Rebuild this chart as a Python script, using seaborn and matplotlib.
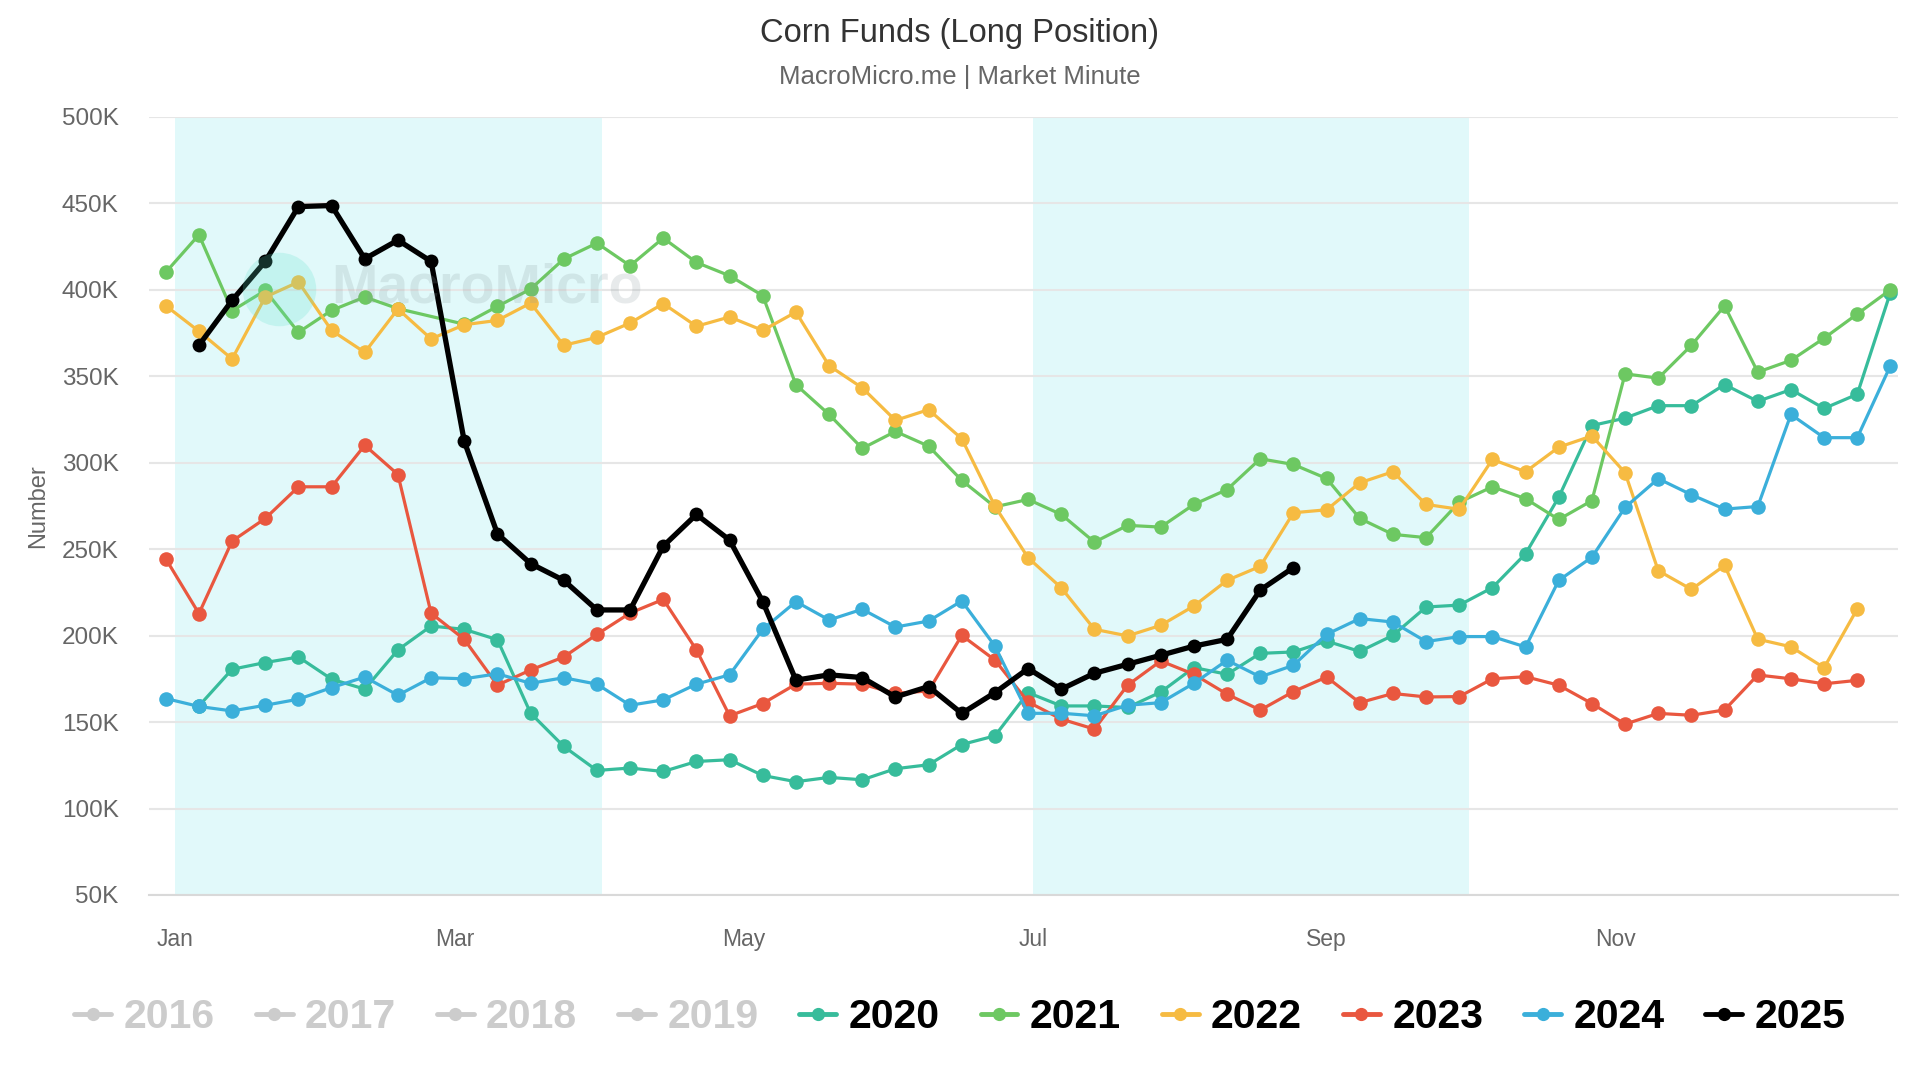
import numpy as np
import pandas as pd
import matplotlib
matplotlib.use("Agg")
import matplotlib.pyplot as plt
import matplotlib.dates as mdates
from matplotlib.lines import Line2D
from matplotlib.ticker import FuncFormatter
import seaborn as sns

# ==========================================
# DATA (thousand contracts, weekly, week 0 = last Monday of Dec)
# ==========================================
weeks_2020 = list(range(1, 53))
vals_2020 = [159.3, 180.5, 184.4, 187.6, 174.8, 169.0, 191.7, 205.5, 203.6, 197.6,
             155.1, 135.9, 122.0, 123.4, 121.4, 127.2, 128.2, 119.1, 115.5, 118.0,
             116.6, 123.0, 125.3, 137.0, 142.0, 167.0, 159.3, 159.3, 158.4, 167.3,
             181.5, 177.6, 189.7, 190.5, 196.8, 190.8, 200.1, 216.5, 217.6, 227.7,
             247.3, 280.0, 321.4, 325.7, 332.9, 332.9, 345.1, 335.4, 342.2, 331.3,
             339.5, 398.3]

weeks_2021 = [0, 1, 2, 3, 4, 5, 6, 7] + list(range(9, 53))
vals_2021 = [410.0, 431.7, 387.8, 399.5, 375.3, 388.0, 395.7, 389.0,
             380.0, 390.3, 400.3, 417.7, 426.9, 413.8, 429.8, 415.7, 408.0, 396.5,
             345.0, 327.8, 308.2, 318.0, 309.5, 289.7, 274.4, 278.7, 270.0, 254.0,
             263.7, 262.7, 275.8, 284.4, 302.2, 298.9, 290.8, 267.7, 258.5, 256.6,
             277.1, 286.0, 279.1, 267.1, 278.0, 351.3, 348.8, 367.8, 390.6, 352.3,
             359.1, 371.9, 385.9, 399.9]

weeks_2022 = list(range(0, 52))
vals_2022 = [390.7, 375.9, 359.9, 395.7, 404.4, 376.4, 363.7, 388.8, 371.5, 379.7,
             382.2, 392.2, 367.8, 372.4, 380.7, 391.9, 378.8, 384.2, 376.4, 387.0,
             356.0, 343.2, 324.4, 330.6, 313.8, 274.8, 245.0, 227.6, 203.6, 199.8,
             205.9, 217.1, 231.9, 240.0, 271.0, 272.7, 288.3, 294.7, 275.8, 273.0,
             301.8, 294.7, 308.9, 315.4, 294.1, 237.5, 226.7, 240.5, 197.9, 193.5,
             181.4, 215.4]

weeks_2023 = list(range(0, 52))
vals_2023 = [244.4, 212.7, 254.6, 267.7, 286.0, 286.0, 310.0, 293.1, 212.9, 197.8,
             171.3, 180.1, 187.6, 200.7, 213.0, 220.9, 191.7, 153.6, 160.7, 171.9,
             172.4, 171.9, 166.5, 168.0, 200.1, 185.8, 161.6, 151.7, 145.9, 171.3,
             185.3, 177.6, 166.1, 156.9, 167.6, 176.0, 161.2, 166.5, 164.5, 164.7,
             175.0, 176.2, 171.3, 160.7, 148.8, 155.0, 153.9, 157.0, 177.2, 175.0,
             172.1, 174.1]

weeks_2024 = list(range(0, 53))
vals_2024 = [163.6, 159.0, 156.4, 159.7, 163.2, 169.9, 176.0, 165.5, 175.6, 175.0,
             177.9, 172.4, 175.6, 171.9, 159.7, 162.8, 171.9, 177.3, 203.6, 219.6,
             209.0, 215.2, 204.9, 208.4, 220.0, 193.9, 155.0, 155.1, 153.6, 159.7,
             161.2, 172.4, 185.7, 176.1, 182.8, 200.7, 209.8, 207.8, 196.5, 199.4,
             199.4, 193.4, 231.9, 245.3, 274.1, 290.7, 281.4, 273.1, 274.6, 327.8,
             314.4, 314.4, 356.0]

weeks_2025 = list(range(1, 35))
vals_2025 = [367.8, 393.8, 416.3, 448.0, 448.6, 417.8, 428.6, 416.3, 312.3, 258.8,
             241.6, 231.9, 214.8, 214.8, 251.7, 270.0, 255.2, 219.6, 174.2, 177.3,
             175.7, 164.5, 170.5, 155.0, 167.0, 180.9, 169.0, 178.2, 183.4, 188.6,
             193.9, 197.8, 226.3, 239.3]

legend_years = ["2016", "2017", "2018", "2019", "2020", "2021", "2022", "2023", "2024", "2025"]
hidden_years = ["2016", "2017", "2018", "2019"]
month_ticks = [1, 3, 5, 7, 9, 11]
y_ticks = list(range(50000, 500001, 50000))

warna = {"2020": "#37BC9B", "2021": "#6DC862", "2022": "#F6BB42",
         "2023": "#E9573F", "2024": "#3BAFDA", "2025": "#000000"}

# ==========================================
# SUSUN DATAFRAME
# ==========================================
base = pd.Timestamp("2024-12-30")
rows = []
for tahun, minggu, nilai in [("2020", weeks_2020, vals_2020), ("2021", weeks_2021, vals_2021),
                             ("2022", weeks_2022, vals_2022), ("2023", weeks_2023, vals_2023),
                             ("2024", weeks_2024, vals_2024), ("2025", weeks_2025, vals_2025)]:
    for w, v in zip(minggu, nilai):
        rows.append({"tanggal": base + pd.Timedelta(days=7 * w), "nilai": v * 1000, "tahun": tahun})
df = pd.DataFrame(rows)

# ==========================================
# PLOT
# ==========================================
sns.set_style("white")
plt.rcParams["font.family"] = ["Liberation Sans", "DejaVu Sans"]

fig = plt.figure(figsize=(19.2, 10.8), dpi=100)
ax = fig.add_axes([0.0777, 0.1713, 0.9108, 0.7207])

# kuartal yang diarsir
ax.axvspan(pd.Timestamp("2025-01-01"), pd.Timestamp("2025-04-01"), color="#e1f9fa", zorder=0, lw=0)
ax.axvspan(pd.Timestamp("2025-07-01"), pd.Timestamp("2025-10-01"), color="#e1f9fa", zorder=0, lw=0)

lama = df[df["tahun"] != "2025"]
sns.lineplot(data=lama, x="tanggal", y="nilai", hue="tahun",
             hue_order=["2020", "2021", "2022", "2023", "2024"], palette=warna,
             estimator=None, legend=False, linewidth=2.3, marker="o",
             markersize=10.5, markeredgewidth=0, ax=ax, zorder=3)
sns.lineplot(data=df[df["tahun"] == "2025"], x="tanggal", y="nilai", color=warna["2025"],
             estimator=None, legend=False, linewidth=3.8, marker="o",
             markersize=10, markeredgewidth=0, ax=ax, zorder=4)

ax.set_ylim(50000, 500000)
ax.set_xlim(pd.Timestamp("2024-12-26 12:00"), pd.Timestamp("2025-12-30 14:00"))
ax.set_yticks(y_ticks)
ax.yaxis.set_major_formatter(FuncFormatter(lambda v, p: f"{int(v / 1000)}K"))
ax.xaxis.set_major_locator(mdates.MonthLocator(bymonth=month_ticks))
ax.xaxis.set_major_formatter(mdates.DateFormatter("%b"))

ax.yaxis.grid(True, color="#e6e6e6", linewidth=1.5, zorder=1)
ax.xaxis.grid(False)
for s in ["top", "right", "left"]:
    ax.spines[s].set_visible(False)
ax.spines["bottom"].set_color("#d9d9d9")
ax.spines["bottom"].set_linewidth(1.5)
ax.tick_params(axis="y", length=0, labelsize=17.5, labelcolor="#666666", pad=22)
ax.tick_params(axis="x", length=11, width=1.5, color="#d9d9d9", labelsize=16.5,
               labelcolor="#666666", pad=13)
ax.set_xlabel("")
ax.set_ylabel("Number", fontsize=17, color="#666666")
ax.yaxis.set_label_coords(-0.057, 0.5)

# watermark
ax.scatter([0.0743], [0.779], s=2800, color="#5ce0c8", alpha=0.22, transform=ax.transAxes,
           zorder=6, linewidths=0)
ax.text(0.104, 0.779, "MacroMicro", transform=ax.transAxes, fontsize=40, fontweight="bold",
        color="#8a9a9e", alpha=0.2, va="center", ha="left", zorder=6)

# judul
fig.text(0.5, 0.969, "Corn Funds (Long Position)", ha="center", va="center",
         fontsize=23.5, color="#333333")
fig.text(0.5, 0.929, "MacroMicro.me | Market Minute", ha="center", va="center",
         fontsize=18.5, color="#666666")

# legenda
handles = []
for th in legend_years:
    c = "#cccccc" if th in hidden_years else warna[th]
    handles.append(Line2D([0], [0], color=c, lw=3.5, marker="o", markersize=9.5,
                          markeredgewidth=0))
leg = fig.legend(handles, legend_years, loc="center", bbox_to_anchor=(0.5, 0.058),
                 ncol=10, frameon=False, handlelength=0.9, handletextpad=0.3,
                 columnspacing=1.0, prop={"size": 29.5, "weight": "bold"})
for t in leg.get_texts():
    t.set_color("#cccccc" if t.get_text() in hidden_years else "#000000")

fig.savefig("out.png", dpi=100)
